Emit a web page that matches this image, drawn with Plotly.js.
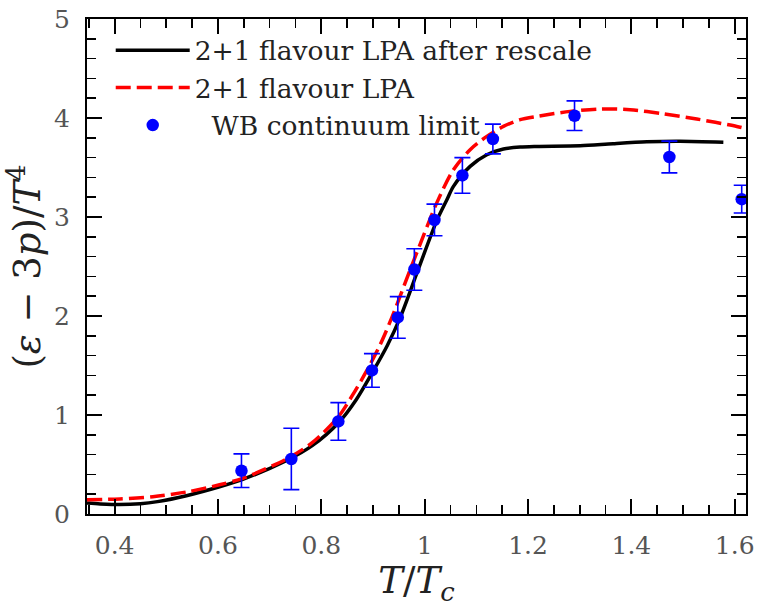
<!DOCTYPE html>
<html>
<head>
<meta charset="utf-8">
<script src="https://cdn.plot.ly/plotly-3.0.1.min.js"></script>
<style>html,body{margin:0;padding:0;background:#fff;}#chart{width:758px;height:607px;}</style>
</head>
<body>
<div id="chart"></div>
<script>
// 2+1 flavour LPA after rescale (black solid)
const tRescale = [0.3466, 0.3723, 0.409, 0.45, 0.483, 0.539, 0.603, 0.648, 0.7321, 0.7824, 0.8333, 0.8675, 0.901, 0.9275, 0.9526, 0.9874, 1.0242, 1.043, 1.0557, 1.088, 1.1203, 1.1524, 1.1847, 1.217, 1.3008, 1.3646, 1.4298, 1.4942, 1.578];
const eRescale = [0.111, 0.102, 0.095, 0.103, 0.125, 0.185, 0.275, 0.350, 0.538, 0.690, 0.922, 1.155, 1.45, 1.70, 1.983, 2.468, 2.973, 3.175, 3.309, 3.511, 3.629, 3.687, 3.707, 3.713, 3.720, 3.741, 3.759, 3.764, 3.754];
// 2+1 flavour LPA (red dashed)
const tLPA = [0.3466, 0.41, 0.474, 0.539, 0.603, 0.648, 0.7321, 0.7824, 0.8333, 0.8598, 0.8882, 0.9139, 0.9366, 0.972, 0.9977, 1.0236, 1.0557, 1.088, 1.1203, 1.1524, 1.1847, 1.217, 1.2815, 1.3395, 1.3975, 1.4619, 1.5265, 1.6039, 1.6219];
const eLPA = [0.144, 0.152, 0.175, 0.222, 0.295, 0.360, 0.554, 0.72, 0.983, 1.195, 1.45, 1.71, 1.986, 2.468, 2.811, 3.145, 3.478, 3.680, 3.814, 3.915, 3.983, 4.016, 4.067, 4.091, 4.084, 4.043, 3.990, 3.915, 3.892];
// WB continuum limit (points with error bars)
const tWB = [0.6455, 0.742, 0.833, 0.898, 0.948, 0.980, 1.019, 1.073, 1.132, 1.290, 1.4735, 1.6135];
const eWB = [0.437, 0.556, 0.935, 1.45, 1.986, 2.47, 2.97, 3.42, 3.788, 4.023, 3.606, 3.18];
const errWB = [0.17, 0.31, 0.19, 0.17, 0.21, 0.21, 0.16, 0.18, 0.15, 0.15, 0.16, 0.14];

const names = ['2+1 flavour LPA after rescale', '2+1 flavour LPA', '\u00a0\u00a0WB continuum limit'];

const serif = '"DejaVu Serif", "Liberation Serif", serif';

const traces = [
  {x: tRescale, y: eRescale, type: 'scatter', mode: 'lines', name: names[0],
   line: {color: '#000000', width: 3.5, shape: 'spline', smoothing: 0.8}},
  {x: tLPA, y: eLPA, type: 'scatter', mode: 'lines', name: names[1],
   line: {color: '#ff0000', width: 3.5, dash: '15px,6px', shape: 'spline', smoothing: 0.8}},
  {x: tWB, y: eWB, type: 'scatter', mode: 'markers', name: names[2],
   marker: {color: '#0000ff', size: 12.5},
   error_y: {type: 'data', array: errWB, visible: true, color: '#0000ff', thickness: 1.6, width: 8}}
];

const axisCommon = {
  showgrid: false, zeroline: false, showline: true, linecolor: '#000', linewidth: 2,
  mirror: 'allticks', ticks: 'inside', ticklen: 15, tickwidth: 2, tickcolor: '#000',
  tickfont: {family: serif, size: 25, color: '#555555'}
};

const layout = {
  width: 758, height: 607,
  margin: {l: 87, r: 12, t: 19, b: 93, pad: 0},
  paper_bgcolor: '#ffffff', plot_bgcolor: '#ffffff',
  showlegend: true,
  legend: {x: 0.036, y: 0.985, xanchor: 'left', yanchor: 'top', bgcolor: 'rgba(0,0,0,0)',
           borderwidth: 0, font: {family: serif, size: 26.5, color: '#222222'}, itemwidth: 74},
  xaxis: Object.assign({}, axisCommon, {
    range: [0.3466, 1.6218], tickmode: 'linear', tick0: 0.4, dtick: 0.2,
    minor: {dtick: 0.05, tick0: 0.4, ticks: 'inside', ticklen: 9, tickwidth: 1.6, tickcolor: '#000', showgrid: false},
    ticklabelstandoff: 8,
    title: {text: '<i>T</i>/<i>T</i><sub><i>c</i></sub>', font: {family: serif, size: 37, color: '#222222'}, standoff: 6}
  }),
  yaxis: Object.assign({}, axisCommon, {
    range: [0, 5], tickmode: 'linear', tick0: 0, dtick: 1,
    minor: {dtick: 0.2, tick0: 0, ticks: 'inside', ticklen: 9, tickwidth: 1.6, tickcolor: '#000', showgrid: false},
    ticklabelstandoff: 10,
    title: {text: '(<i>ε</i> − 3<i>p</i>)/<i>T</i><sup>4</sup>', font: {family: serif, size: 37, color: '#222222'}, standoff: 2}
  })
};

Plotly.newPlot('chart', traces, layout, {staticPlot: true, displayModeBar: false});
</script>
</body>
</html>
